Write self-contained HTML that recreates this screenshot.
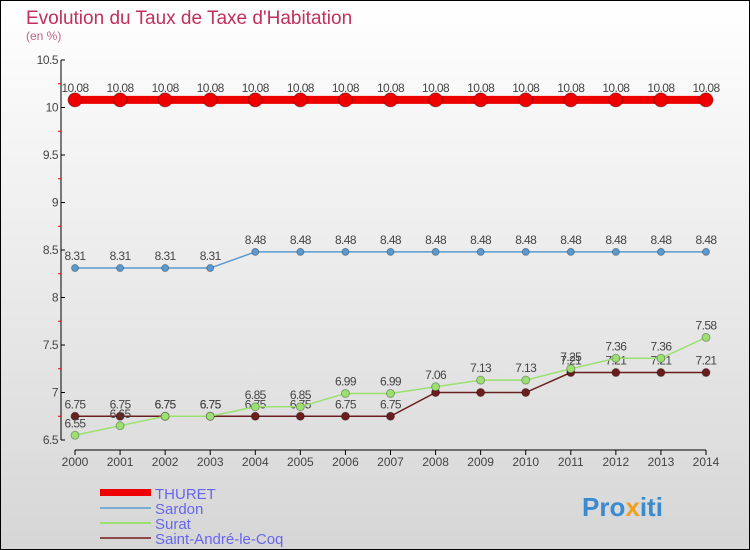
<!DOCTYPE html>
<html><head><meta charset="utf-8"><style>
body{margin:0}
svg{display:block;font-family:"Liberation Sans",sans-serif}
</style></head><body>
<svg id="c" width="750" height="550">
<defs><linearGradient id="bg" x1="0" y1="0" x2="0" y2="1"><stop offset="0" stop-color="#ffffff"/><stop offset="1" stop-color="#d6d6d6"/></linearGradient></defs>
<rect x="0.5" y="0.5" width="749" height="549" fill="url(#bg)" stroke="#000"/>
<text x="26" y="24" font-size="19" fill="#c0305a">Evolution du Taux de Taxe d'Habitation</text>
<text x="26" y="40" font-size="12" fill="#c0608a">(en %)</text>
<g id="axes"></g><g id="plot"></g>
<g>
<rect x="100" y="489" width="51" height="7" fill="#e00"/>
<text x="155" y="499" font-size="15" fill="#6666ee">THURET</text>
<line x1="100" y1="508" x2="151" y2="508" stroke="#7aaed0" stroke-width="2"/>
<text x="155" y="514" font-size="15" fill="#6666ee">Sardon</text>
<line x1="100" y1="523" x2="151" y2="523" stroke="#9be070" stroke-width="2"/>
<text x="155" y="529" font-size="15" fill="#6666ee">Surat</text>
<line x1="100" y1="538" x2="151" y2="538" stroke="#8a4a4a" stroke-width="2"/>
<text x="155" y="544" font-size="15" fill="#6666ee">Saint-André-le-Coq</text>
</g>
<text x="582" y="516" font-size="26" font-weight="bold" fill="#3a8ad0">Pro<tspan fill="#f0a020">x</tspan>iti</text>
</svg>
<script>
const years=[2000,2001,2002,2003,2004,2005,2006,2007,2008,2009,2010,2011,2012,2013,2014];
const thuret=[10.08,10.08,10.08,10.08,10.08,10.08,10.08,10.08,10.08,10.08,10.08,10.08,10.08,10.08,10.08];
const sardon=[8.31,8.31,8.31,8.31,8.48,8.48,8.48,8.48,8.48,8.48,8.48,8.48,8.48,8.48,8.48];
const surat=[6.55,6.65,6.75,6.75,6.85,6.85,6.99,6.99,7.06,7.13,7.13,7.25,7.36,7.36,7.58];
const andre=[6.75,6.75,6.75,6.75,6.75,6.75,6.75,6.75,7.0,7.0,7.0,7.21,7.21,7.21,7.21];
const yTicks=[6.5,7,7.5,8,8.5,9,9.5,10,10.5];
const NS='http://www.w3.org/2000/svg';
const X=i=>75+i*(706-75)/(years.length-1);
const Y=v=>440-(v-6.5)*95;
const ax=document.getElementById('axes'),pl=document.getElementById('plot');
function mk(p,t,a){const e=document.createElementNS(NS,t);for(const k in a)e.setAttribute(k,a[k]);p.appendChild(e);return e;}
let e=mk(ax,'line',{x1:61,y1:60,x2:61,y2:440,stroke:'#000'});


e=mk(ax,'line',{x1:75,y1:450,x2:706,y2:450,stroke:'#000'});


yTicks.forEach((v,i)=>{mk(ax,'line',{x1:61,y1:Y(v),x2:65,y2:Y(v),stroke:'#000'});
 if(i<yTicks.length-1)mk(ax,'line',{x1:58,y1:Y(v+0.25),x2:61,y2:Y(v+0.25),stroke:'#e00'});
 const t=mk(ax,'text',{x:58,y:Y(v)+4,'font-size':12,'text-anchor':'end',fill:'#444','letter-spacing':-0.5});t.textContent=String(v);
 
 });
years.forEach((y,i)=>{mk(ax,'line',{x1:X(i),y1:450,x2:X(i),y2:455,stroke:'#000'});
 const t=mk(ax,'text',{x:X(i),y:466,'font-size':12,'text-anchor':'middle',fill:'#444'});t.textContent=y;
 
 });
function series(d,col,w,r,name,skip){
 const ln=mk(pl,'polyline',{points:d.map((v,i)=>X(i)+','+Y(v)).join(' '),fill:'none',stroke:col,'stroke-width':w});
 
 
 d.forEach((v,i)=>{const c=mk(pl,'circle',{cx:X(i),cy:Y(v),r:r,fill:col,stroke:'rgba(0,0,0,0.3)'});
  
  
  if(skip&&skip(v))return;
  const t=mk(pl,'text',{x:X(i),y:Y(v)-8,'font-size':12,'text-anchor':'middle',fill:'#444','letter-spacing':-0.6});t.textContent=String(v);
  
  });
}
series(andre,'#6a1e1e',1.5,4,'saint-andre',v=>v===7);
series(surat,'#9be070',1.5,4,'surat');
series(sardon,'#5a9ad0',1.5,3.5,'sardon');
series(thuret,'#e00',8,7,'thuret');
</script>
</body></html>
